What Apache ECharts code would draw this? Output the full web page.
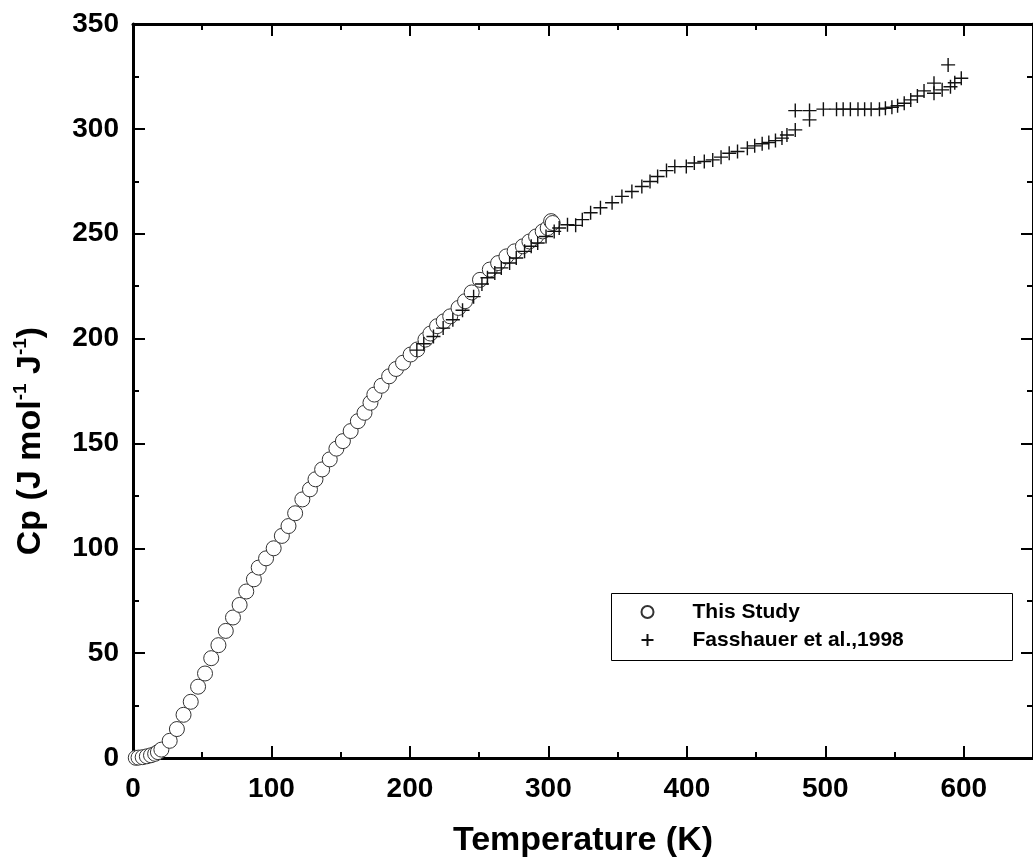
<!DOCTYPE html>
<html>
<head>
<meta charset="utf-8">
<script src="https://cdn.jsdelivr.net/npm/echarts@6/dist/echarts.min.js"></script>
<style>html,body{margin:0;padding:0;background:#fff;}#chart{width:1033px;height:863px;}</style>
</head>
<body>
<div id="chart"></div>
<script>
// This Study (open circles)
const tempStudy = [2, 4, 7, 10, 13, 16, 18, 20.5, 26.5, 31.7, 36.5, 41.7, 47, 52, 56.5, 61.7, 67, 72.2, 77, 81.8, 87.3, 90.8, 96.1, 101.6, 107.5, 112.3, 117.1, 122.3, 127.8, 131.8, 136.6, 142.1, 146.9, 151.6, 157.2, 162.4, 167.2, 171.5, 174.3, 179.5, 185, 190, 195, 200.5, 205.3, 211.2, 214.8, 219.6, 224.4, 229.1, 235.1, 239.8, 244.6, 250.6, 257.7, 263.7, 269.7, 275.6, 281.6, 286.3, 291.1, 295.9, 299.5, 302, 303.1];
const cpStudy   = [0.1, 0.2, 0.4, 0.8, 1.3, 2.0, 2.8, 4.0, 8.2, 13.8, 20.6, 26.8, 34, 40.3, 47.6, 53.8, 60.6, 67, 73, 79.4, 85.2, 90.8, 95.2, 100, 105.9, 110.6, 116.7, 123.3, 128.1, 132.9, 137.6, 142.4, 147.5, 151.1, 155.9, 160.6, 164.6, 169.4, 173.3, 177.5, 182, 185.5, 188.5, 192.4, 194.8, 199.5, 202.4, 205.9, 208.2, 210.6, 214.6, 217.8, 222, 228, 232.9, 236, 239.2, 241.6, 244, 246.3, 248.7, 251.1, 252.7, 256, 255.1];
// Fasshauer et al., 1998 (plus markers)
const tempFass = [205, 210, 217, 224, 231, 238, 246, 252, 256, 261.3, 266, 272, 276.8, 282.8, 287.6, 292.3, 298.3, 304.2, 307.8, 313.8, 319.7, 324.5, 330.5, 337.6, 346, 353.1, 360.3, 367.5, 373.4, 378.9, 385.3, 391.3, 399.6, 405.4, 412.6, 418.7, 424.7, 430.6, 436.6, 443.7, 449, 454.4, 459.2, 464, 468.7, 472.3, 478.3, 478.3, 488.6, 488.6, 498.6, 508.1, 512.9, 518.1, 523.6, 528.4, 533.1, 539.1, 543.4, 548.1, 552.2, 557, 561.7, 566.5, 571.3, 578.5, 578.5, 584.4, 588.7, 590.4, 593.5, 598.2];
const cpFass   = [194.5, 197.5, 201, 205, 209, 213.5, 220, 226, 229, 231.3, 233.7, 236, 238.4, 241.6, 244, 245.6, 248.7, 251.1, 252.7, 254.3, 254, 256.7, 260, 262.4, 264.8, 267.8, 270.1, 272.5, 274.9, 277.3, 280.1, 282, 282, 283.7, 284.4, 285.2, 286.5, 288.4, 289.2, 290.8, 291.9, 292.9, 293.5, 294.4, 295.6, 297.1, 299.5, 308.7, 308.7, 304.3, 309.4, 309.4, 309.4, 309.4, 309.4, 309.4, 309.4, 309.4, 309.8, 310.3, 311, 312.2, 313.8, 315.7, 318.1, 321.8, 317, 318.6, 330.5, 320.1, 322, 324.1];

const seriesNames = ['This Study', 'Fasshauer et al.,1998'];
const xTitle = 'Temperature (K)';

const FONT = '"Liberation Sans", Arial, sans-serif';
const chart = echarts.init(document.getElementById('chart'), null, {renderer: 'canvas'});

const tickCommon = {
  axisLine: {show: true, onZero: false, lineStyle: {color: '#000', width: 3}},
  axisTick: {show: true, inside: true, length: 12, lineStyle: {color: '#000', width: 2}},
  minorTick: {show: true, splitNumber: 2, length: 6, lineStyle: {color: '#000', width: 2}},
  splitLine: {show: false},
  minorSplitLine: {show: false}
};
const labelStyle = {color: '#000', fontFamily: FONT, fontWeight: 'bold', fontSize: 28};

const option = {
  animation: false,
  backgroundColor: '#fff',
  grid: {left: 133, top: 24, width: 909, height: 735, containLabel: false},
  xAxis: [
    Object.assign({
      type: 'value', min: 0, max: 650, interval: 100, position: 'bottom',
      axisLabel: Object.assign({margin: 17, showMaxLabel: false}, labelStyle),
      name: xTitle, nameLocation: 'middle', nameGap: 66,
      nameTextStyle: {color: '#000', fontFamily: FONT, fontWeight: 'bold', fontSize: 34}
    }, tickCommon),
    Object.assign({
      type: 'value', min: 0, max: 650, interval: 100, position: 'top',
      axisLabel: {show: false}
    }, tickCommon)
  ],
  yAxis: [
    Object.assign({
      type: 'value', min: 0, max: 350, interval: 50, position: 'left',
      axisLabel: Object.assign({margin: 14}, labelStyle),
      name: '{n|Cp (J mol}{s|-1}{n| J}{s|-1}{n|)}',
      nameLocation: 'middle', nameGap: 82,
      nameTextStyle: {
        color: '#000', fontFamily: FONT, fontWeight: 'bold', fontSize: 34,
        padding: [0, 100, 0, 0],
        rich: {
          n: {color: '#000', fontFamily: FONT, fontWeight: 'bold', fontSize: 34, lineHeight: 40},
          s: {color: '#000', fontFamily: FONT, fontWeight: 'bold', fontSize: 19, lineHeight: 40, verticalAlign: 'top', padding: [0, 0, 18, 0]}
        }
      }
    }, tickCommon),
    Object.assign({
      type: 'value', min: 0, max: 350, interval: 50, position: 'right',
      axisLabel: {show: false}
    }, tickCommon)
  ],
  legend: {
    orient: 'vertical', left: 639, top: 601, padding: 0,
    itemWidth: 12, itemHeight: 12, itemGap: 6,
    textStyle: {color: '#000', fontFamily: FONT, fontWeight: 'bold', fontSize: 21, lineHeight: 22, padding: [0, 0, 0, 34]},
    data: seriesNames
  },
  graphic: [{
    type: 'rect', left: 609, top: 591, z: 5,
    shape: {width: 401, height: 67},
    style: {fill: 'none', stroke: '#000', lineWidth: 1}
  }],
  series: [
    {
      name: seriesNames[0], type: 'scatter', clip: false, z: 3,
      symbol: 'circle', symbolSize: 15,
      itemStyle: {color: '#fff', borderColor: '#333', borderWidth: 1, opacity: 1},
      data: tempStudy.map((t, i) => [t, cpStudy[i]])
    },
    {
      name: seriesNames[1], type: 'scatter', clip: false, z: 4,
      symbol: 'path://M5,0 L5,10 M0,5 L10,5', symbolSize: 14,
      itemStyle: {color: 'none', borderColor: '#111', borderWidth: 1.4, opacity: 1},
      data: tempFass.map((t, i) => [t, cpFass[i]])
    }
  ]
};
chart.setOption(option);
</script>
</body>
</html>
